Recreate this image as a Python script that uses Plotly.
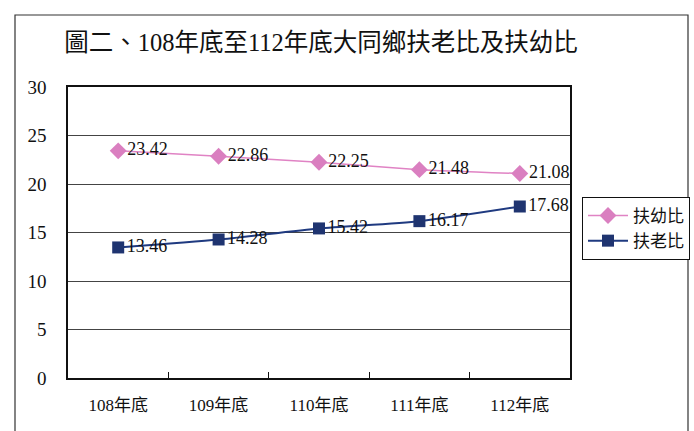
import plotly.graph_objects as go

categories = ["108年底", "109年底", "110年底", "111年底", "112年底"]
youth_ratio = [23.42, 22.86, 22.25, 21.48, 21.08]   # 扶幼比
elder_ratio = [13.46, 14.28, 15.42, 16.17, 17.68]   # 扶老比
y_ticks = [0, 5, 10, 15, 20, 25, 30]

FONT = "Liberation Serif, Times New Roman, Noto Sans CJK TC, serif"
W, H = 694, 431
L, R, T, B = 68, 124, 87, 53
pw, ph = W - L - R, H - T - B

def px_x(p):
    return (p - L) / pw

def px_y(p):
    return (H - B - p) / ph

fig = go.Figure()
fig.add_trace(go.Scatter(
    x=categories, y=youth_ratio, name="扶幼比",
    mode="lines+markers+text", cliponaxis=False,
    line=dict(color="#E083C4", width=1.5, shape="spline", smoothing=0.5),
    marker=dict(symbol="diamond", size=13, color="#DA7FC0"),
    text=[f"{v:.2f}" for v in youth_ratio], textposition="middle right",
    textfont=dict(family=FONT, size=18, color="#111111"),
))
fig.add_trace(go.Scatter(
    x=categories, y=elder_ratio, name="扶老比",
    mode="lines+markers+text", cliponaxis=False,
    line=dict(color="#1F3A80", width=2, shape="spline", smoothing=0.6),
    marker=dict(symbol="square", size=12, color="#1F3470"),
    text=[f"{v:.2f}" for v in elder_ratio], textposition="middle right",
    textfont=dict(family=FONT, size=18, color="#111111"),
))

fig.update_layout(
    width=W, height=H,
    margin=dict(l=L, r=R, t=T, b=B, autoexpand=False),
    paper_bgcolor="white", plot_bgcolor="white",
    font=dict(family=FONT, size=16, color="#111111"),
    title=dict(text="圖二、108年底至112年底大同鄉扶老比及扶幼比",
               x=321 / W, xanchor="center", y=1 - 42 / H, yanchor="middle",
               font=dict(family=FONT, size=24.5, color="#111111")),
    showlegend=True,
    legend=dict(x=px_x(582), y=px_y(197), xanchor="left", yanchor="top",
                bordercolor="#111111", borderwidth=1, bgcolor="white",
                font=dict(family=FONT, size=17), tracegroupgap=2, itemwidth=40),
    xaxis=dict(range=[-0.5, 4.5], showline=True, linecolor="#111111", linewidth=1.5,
               mirror=True, ticks="inside", tickson="boundaries", ticklen=6,
               tickcolor="#111111", showgrid=False, ticklabelstandoff=11,
               tickfont=dict(family=FONT, size=17)),
    yaxis=dict(range=[0, 30], tickvals=y_ticks, showline=True, linecolor="#111111",
               linewidth=1.5, mirror=True, showgrid=True, gridcolor="#444444",
               gridwidth=1, zeroline=False, ticks="", ticklabelstandoff=16,
               tickfont=dict(family=FONT, size=19)),
    shapes=[dict(type="rect", xref="paper", yref="paper",
                 x0=px_x(15), x1=px_x(688), y0=px_y(445), y1=px_y(15),
                 line=dict(color="#333333", width=1.2), layer="below")],
)

fig.write_html("out.html", config={"displayModeBar": False},
               post_script="document.body.style.margin='0';")
